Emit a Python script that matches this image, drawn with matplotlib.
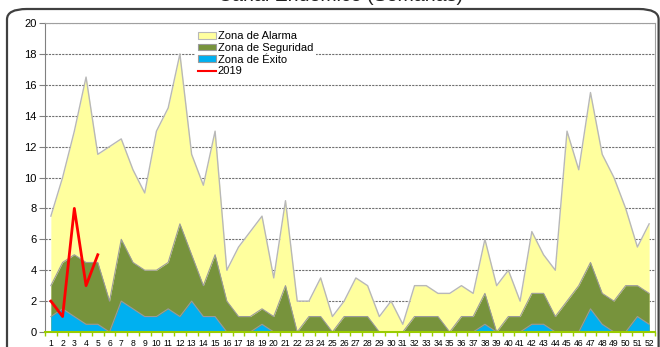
import matplotlib
matplotlib.use("Agg")
import matplotlib.pyplot as plt
from matplotlib.patches import FancyBboxPatch, Patch
from matplotlib.lines import Line2D
import numpy as np

plt.rcParams['font.family'] = ['Liberation Sans', 'DejaVu Sans']

weeks = list(range(1, 53))

# Upper limit of each zone per epidemiological week
zona_alarma = [7.5, 10, 13, 16.5, 11.5, 12, 12.5, 10.5, 9, 13, 14.5, 18, 11.5, 9.5, 13,
               4, 5.5, 6.5, 7.5, 3.5, 8.5, 2, 2, 3.5, 1, 2, 3.5, 3, 1, 2,
               0.5, 3, 3, 2.5, 2.5, 3, 2.5, 6, 3, 4, 2, 6.5, 5, 4, 13,
               10.5, 15.5, 11.5, 10, 8, 5.5, 7]
zona_seguridad = [3, 4.5, 5, 4.5, 4.5, 2, 6, 4.5, 4, 4, 4.5, 7, 5, 3, 5,
                  2, 1, 1, 1.5, 1, 3, 0, 1, 1, 0, 1, 1, 1, 0, 0,
                  0, 1, 1, 1, 0, 1, 1, 2.5, 0, 1, 1, 2.5, 2.5, 1, 2,
                  3, 4.5, 2.5, 2, 3, 3, 2.5]
zona_exito = [1, 1.5, 1, 0.5, 0.5, 0, 2, 1.5, 1, 1, 1.5, 1, 2, 1, 1,
              0, 0, 0, 0.5, 0, 0, 0, 0, 0, 0, 0, 0, 0, 0, 0,
              0, 0, 0, 0, 0, 0, 0, 0.5, 0, 0, 0, 0.5, 0.5, 0, 0,
              0, 1.5, 0.5, 0, 0, 1, 0.5]
weeks_2019 = [1, 2, 3, 4, 5]
cases_2019 = [2, 1, 8, 3, 5]

yellow = '#FFFF9E'
green = '#77933C'
blue = '#00B0F0'
edge = '#B8B8B8'

fig = plt.figure(figsize=(6.6, 3.47), dpi=100)
W, H = 660, 347

# Rounded outer frame of the chart
frame = FancyBboxPatch((7 / W, -0.2), (652 - 7) / W + 0.01, (347 - 9) / H + 0.2,
                       boxstyle="round,pad=0,rounding_size=0.03",
                       transform=fig.transFigure, fill=False,
                       edgecolor='#404040', linewidth=1.6, clip_on=False)
fig.patches.append(frame)

fig.text(340 / W, 1 - 1 / H, "Canal Endémico (Semanas)", ha='center', va='baseline',
         fontsize=14, color='#202020')

ax = fig.add_axes([45 / W, 1 - 332 / H, (655 - 45) / W, (332 - 23) / H])

x = np.array(weeks)
ax.fill_between(x, 0, zona_alarma, color=yellow, linewidth=0, zorder=2)
ax.plot(x, zona_alarma, color=edge, linewidth=1.0, zorder=2.1)
ax.fill_between(x, 0, zona_seguridad, color=green, linewidth=0, zorder=3)
ax.plot(x, zona_seguridad, color='#9A9A9A', linewidth=0.8, zorder=3.1)
ax.fill_between(x, 0, zona_exito, color=blue, linewidth=0, zorder=4)
ax.plot(x, zona_exito, color='#9A9A9A', linewidth=0.8, zorder=4.1)
ax.plot(weeks_2019, cases_2019, color='#FF0000', linewidth=2, zorder=6)

ax.set_xlim(0.5, 52.5)
ax.set_ylim(0, 20)
ax.set_yticks(range(0, 21, 2))
ax.set_xticks(weeks)
ax.set_xticklabels([str(w) for w in weeks], fontsize=6.2)
ax.set_xticks(np.arange(0.5, 53, 1), minor=True)
ax.tick_params(axis='x', which='major', length=0, pad=5, colors='#000000')
ax.tick_params(axis='x', which='minor', length=3, color='#99CC00', width=1)
ax.tick_params(axis='y', length=4, color='#808080', labelsize=8, pad=2)

ax.grid(axis='y', linestyle=(0, (2, 1)), color='#707070', linewidth=0.8, zorder=1)
ax.set_axisbelow(True)

ax.spines['bottom'].set_color('#99CC00')
ax.spines['bottom'].set_linewidth(1.5)
ax.spines['bottom'].set_zorder(7)
ax.spines['left'].set_color('#808080')
ax.spines['top'].set_color('#A0A0A0')
ax.spines['right'].set_color('#A0A0A0')
for s in ('left', 'top', 'right'):
    ax.spines[s].set_linewidth(0.8)

handles = [Patch(facecolor=yellow, edgecolor=edge, linewidth=0.8),
           Patch(facecolor=green, edgecolor='#9A9A9A', linewidth=0.8),
           Patch(facecolor=blue, edgecolor='#9A9A9A', linewidth=0.8),
           Line2D([0], [0], color='#FF0000', linewidth=1.5)]
labels = ['Zona de Alarma', 'Zona de Seguridad', 'Zona de Éxito', '2019']
leg = ax.legend(handles, labels, loc='upper left',
                bbox_to_anchor=(195 / W, 1 - 28 / H), bbox_transform=fig.transFigure,
                fontsize=8, frameon=True, fancybox=False, framealpha=1,
                edgecolor='none', facecolor='white', handlelength=1.6,
                handleheight=0.55, handletextpad=0.15, labelspacing=0.15,
                borderpad=0.3, borderaxespad=0)
leg.set_zorder(8)

fig.savefig("out.png", dpi=100)
